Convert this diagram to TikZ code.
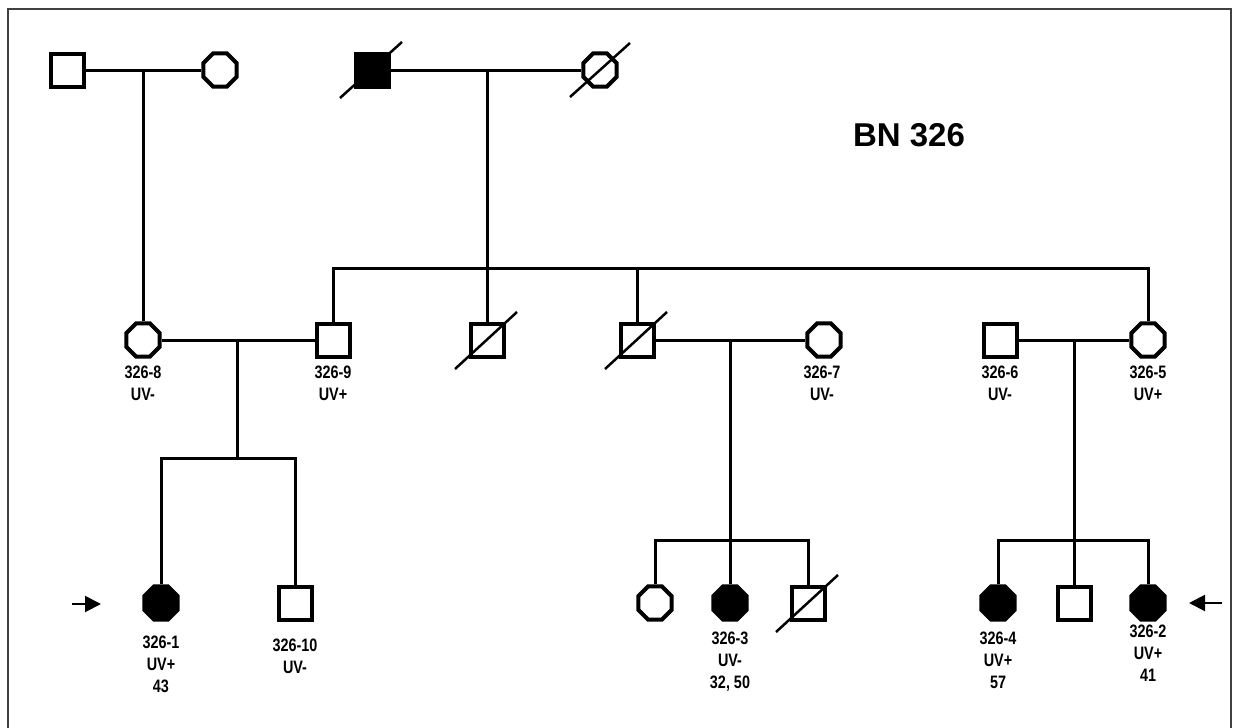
\documentclass[tikz,border=0pt]{standalone}
\usepackage{fontspec}
\setmainfont{Liberation Sans}
\newfontfamily\labfont[FakeStretch=0.8]{Liberation Sans}
\usetikzlibrary{shapes.geometric,arrows.meta}
\begin{document}
\begin{tikzpicture}[x=1pt,y=-1pt,
  line width=3pt, line join=miter,
  male/.style={draw, line width=4pt, rectangle, minimum size=33pt, inner sep=0pt},
  female/.style={draw, line width=4pt, regular polygon, regular polygon sides=8,
    minimum size=36pt, inner sep=0pt},
  aff/.style={fill=black},
  lab/.style={font=\labfont\bfseries\fontsize{18}{22}\selectfont, align=center,
    anchor=north, inner sep=0pt},
  slash/.style={line width=2.5pt},
  proband/.style={line width=2pt, -{Triangle[length=16pt,width=16pt]}},
]
\useasboundingbox (0,0) rectangle (1234,728);
\fill[white] (0,0) rectangle (1234,728);
\draw[line width=2pt, black!75] (8,728) -- (8,9) -- (1231,9) -- (1231,728);

% generation I
\node[male] (g1a) at (67,70) {};
\node[female] (g1b) at (220,70) {};
\node[male,aff] (g1c) at (372,70) {};
\node[female] (g1d) at (600,70) {};
\draw[slash] (g1c.center) ++(-32,28) -- ++(62,-56);
\draw[slash] (g1d.center) ++(-30,27) -- ++(60,-54);

% generation II
\node[female] (p8) at (143,340) {};
\node[male] (p9) at (333,340) {};
\node[male] (d1) at (487,340) {};
\node[male] (d2) at (637,340) {};
\node[female] (p7) at (824,340) {};
\node[male] (p6) at (1000,340) {};
\node[female] (p5) at (1148,340) {};
\draw[slash] (d1.center) ++(-32,29) -- ++(62,-57);
\draw[slash] (d2.center) ++(-32,29) -- ++(62,-57);

% generation III
\node[female,aff] (p1) at (161,603) {};
\node[male] (p10) at (295,603) {};
\node[female] (c1) at (655,603) {};
\node[female,aff] (p3) at (730,603) {};
\node[male] (c2) at (808,603) {};
\node[female,aff] (p4) at (998,603) {};
\node[male] (c3) at (1074,603) {};
\node[female,aff] (p2) at (1148,603) {};
\draw[slash] (c2.center) ++(-32,29) -- ++(62,-57);

% junctions
\coordinate (m1) at (143,70);
\coordinate (m2) at (487,70);
\coordinate (s2) at (487,268);
\coordinate (m3) at (237,340);
\coordinate (s3) at (237,458);
\coordinate (m4) at (730,340);
\coordinate (s4) at (730,540);
\coordinate (m5) at (1074,340);
\coordinate (s5) at (1074,540);

% connectors
\draw (g1a.east) -- (g1b.west);
\draw (m1) -- (p8.north);
\draw (g1c.east) -- (g1d.west);
\draw (m2) -- (s2);
\draw (p9.north) -- (p9 |- s2) -- (p5 |- s2) -- (p5.north);
\draw (s2) -- (d1.north);
\draw (d2.north) -- (d2 |- s2);

\draw (p8.east) -- (p9.west);
\draw (m3) -- (s3);
\draw (p1.north) -- (p1 |- s3) -- (p10 |- s3) -- (p10.north);

\draw (d2.east) -- (p7.west);
\draw (m4) -- (s4);
\draw (c1.north) -- (c1 |- s4) -- (c2 |- s4) -- (c2.north);
\draw (s4) -- (p3.north);

\draw (p6.east) -- (p5.west);
\draw (m5) -- (s5);
\draw (p4.north) -- (p4 |- s5) -- (p2 |- s5) -- (p2.north);
\draw (s5) -- (c3.north);

% proband arrows
\coordinate (a1) at (72,604);
\coordinate (a2) at (1222,603);
\draw[proband] (a1) -- ++(29,0);
\draw[proband] (a2) -- ++(-33,0);

% title
\node[font=\bfseries\fontsize{33}{38}\selectfont] (title) at (909,135) {BN 326};

% labels
\node[lab] (l8) at (143,364) {326-8\\UV-};
\node[lab] (l9) at (333,364) {326-9\\UV+};
\node[lab] (l7) at (822,364) {326-7\\UV-};
\node[lab] (l6) at (1000,364) {326-6\\UV-};
\node[lab] (l5) at (1148,364) {326-5\\UV+};
\node[lab] (l1) at (161,634) {326-1\\UV+\\43};
\node[lab] (l10) at (295,637) {326-10\\UV-};
\node[lab] (l3) at (730,630) {326-3\\UV-\\32, 50};
\node[lab] (l4) at (998,630) {326-4\\UV+\\57};
\node[lab] (l2) at (1148,623) {326-2\\UV+\\41};
\end{tikzpicture}
\end{document}
